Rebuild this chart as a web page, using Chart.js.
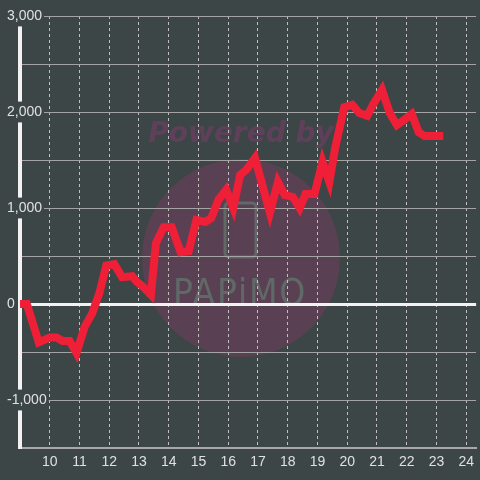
<!DOCTYPE html>
<html lang="en">
<head>
  <meta charset="UTF-8" />
  <title>Balance</title>
  <script src="https://cdn.jsdelivr.net/npm/chart.js"></script>
  <style>
    html, body { margin: 0; padding: 0; background: #3c4646; }
    #wrap { width: 480px; height: 480px; }
  </style>
</head>
<body>
  <div id="wrap"><canvas id="balanceChart" width="480" height="480"></canvas></div>

  <script>
    // time of day (hours) and running balance
    const hours = [9.00, 9.23, 9.63, 10.00, 10.23, 10.43, 10.67, 10.90, 11.17, 11.43,
      11.67, 11.90, 12.17, 12.43, 12.77, 12.93, 13.10, 13.40, 13.57, 13.83,
      14.10, 14.40, 14.67, 14.93, 15.23, 15.43, 15.67, 15.93, 16.17, 16.40,
      16.60, 16.90, 17.40, 17.67, 17.90, 18.17, 18.40, 18.60, 18.90, 19.17,
      19.40, 19.60, 19.90, 20.17, 20.40, 20.67, 20.90, 21.17, 21.43, 21.67,
      21.90, 22.17, 22.40, 22.60, 22.90, 23.23];
    const balance = [0, 0, -400, -350, -350, -385, -385, -510, -240, -95,
      115, 400, 415, 280, 290, 230, 190, 95, 635, 800,
      800, 540, 550, 875, 855, 895, 1085, 1190, 1000, 1345,
      1395, 1520, 950, 1270, 1135, 1115, 1000, 1145, 1145, 1480,
      1270, 1635, 2050, 2075, 1990, 1960, 2095, 2230, 1990, 1865,
      1915, 1980, 1790, 1750, 1750, 1750];
    const xTicks = [9, 10, 11, 12, 13, 14, 15, 16, 17, 18, 19, 20, 21, 22, 23, 24];
    const yLabelEvery = 1000;

    const BG = '#3c4646';

    // background + "Powered by" watermark, drawn under grid and line
    const watermark = {
      id: 'watermark',
      beforeDraw(chart) {
        const ctx = chart.ctx;
        ctx.save();
        ctx.fillStyle = BG;
        ctx.fillRect(0, 0, chart.width, chart.height);

        ctx.fillStyle = '#5a4053';
        ctx.beginPath();
        ctx.arc(241, 258, 99, 0, Math.PI * 2);
        ctx.fill();

        ctx.fillStyle = '#5e405a';
        ctx.font = 'italic bold 28px "DejaVu Sans"';
        ctx.textAlign = 'center';
        ctx.textBaseline = 'alphabetic';
        ctx.fillText('Powered by', 241, 142);

        // phone outline
        ctx.strokeStyle = '#606868';
        ctx.lineWidth = 3;
        ctx.beginPath();
        ctx.roundRect(225, 203, 31, 54, 4);
        ctx.stroke();

        ctx.fillStyle = '#606868';
        ctx.font = '38px "DejaVu Sans"';
        ctx.letterSpacing = '2px';
        ctx.fillText('PAPiMO', 240, 305, 134);
        ctx.restore();
      }
    };

    new Chart(document.getElementById('balanceChart'), {
      type: 'line',
      data: {
        datasets: [{
          data: hours.map((h, i) => ({ x: h, y: balance[i] })),
          borderColor: '#ee1f36',
          borderWidth: 8,
          pointRadius: 0,
          tension: 0,
          fill: false
        }]
      },
      options: {
        responsive: false,
        animation: false,
        devicePixelRatio: 1,
        layout: { padding: { top: 16, left: 0, right: 0, bottom: 0 } },
        plugins: { legend: { display: false }, tooltip: { enabled: false } },
        scales: {
          x: {
            type: 'linear',
            min: 9,
            max: 24.333,
            afterBuildTicks: axis => { axis.ticks = xTicks.map(v => ({ value: v })); },
            afterFit: axis => { axis.height = 32; },
            grid: {
              color: '#c0c0c0',
              lineWidth: 1,
              drawTicks: false
            },
            border: { color: '#a8a8a8', width: 2, dash: [3, 3] },
            ticks: {
              color: '#e0e0e0',
              font: { family: '"Liberation Sans", Arial', size: 14 },
              padding: 6,
              maxRotation: 0,
              autoSkip: false,
              callback: v => (v === 9 ? '' : String(v))
            }
          },
          y: {
            min: -1500,
            max: 3000,
            afterFit: axis => { axis.width = 20; },
            grid: {
              color: ctx => (ctx.tick && ctx.tick.value === 0 ? '#f2f2f2' : '#a4a4a4'),
              lineWidth: ctx => (ctx.tick && ctx.tick.value === 0 ? 3 : 1),
              drawTicks: false
            },
            border: { color: '#f2f2f2', width: 4 },
            ticks: {
              stepSize: 500,
              mirror: true,
              padding: -13,
              color: '#e0e0e0',
              font: { family: '"Liberation Sans", Arial', size: 14 },
              showLabelBackdrop: ctx => ctx.tick && ctx.tick.value % yLabelEvery === 0,
              backdropColor: BG,
              backdropPadding: 2,
              callback: v => (v % yLabelEvery === 0 ? v.toLocaleString('en-US') : '')
            }
          }
        }
      },
      plugins: [watermark]
    });
  </script>
</body>
</html>
